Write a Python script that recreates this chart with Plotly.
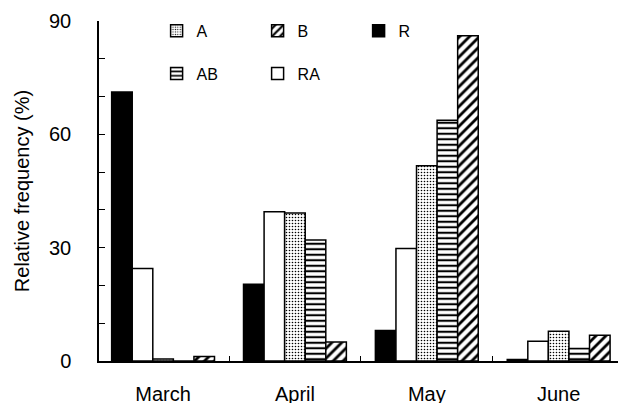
import plotly.graph_objects as go

# ---- data ----
months = ["March", "April", "May", "June"]
R = [71.2, 20.3, 8.1, 0.4]
RA = [24.5, 39.5, 29.8, 5.2]
A = [0.5, 39.2, 51.7, 7.9]
AB = [0.0, 32.0, 63.7, 3.3]
B = [1.2, 5.0, 86.1, 6.8]
y_tick_vals = [0, 10, 20, 30, 40, 50, 60, 70, 80, 90]
y_tick_text = ["0", "", "", "30", "", "", "60", "", "", "90"]

FONT = "Liberation Sans, Arial, sans-serif"

styles = {
    "R":  dict(color="black", shape="", size=8, solidity=0.3, legend="legend", rank=3),
    "RA": dict(color="white", shape="", size=8, solidity=0.3, legend="legend2", rank=2),
    "A":  dict(color="white", shape=".", size=3, solidity=0.22, legend="legend", rank=1),
    "AB": dict(color="white", shape="-", size=5.5, solidity=0.38, legend="legend2", rank=1),
    "B":  dict(color="white", shape="/", size=7, solidity=0.4, legend="legend", rank=2),
}

fig = go.Figure()
for name, vals in [("R", R), ("RA", RA), ("A", A), ("AB", AB), ("B", B)]:
    s = styles[name]
    fig.add_trace(go.Bar(
        x=months, y=vals, name=name,
        marker=dict(color=s["color"], line=dict(color="black", width=1.5),
                    pattern=dict(shape=s["shape"], fgcolor="black", bgcolor="white",
                                 size=s["size"], solidity=s["solidity"], fillmode="replace")
                    if s["shape"] else None),
        legend=s["legend"], legendrank=s["rank"],
    ))

legend_common = dict(orientation="h", entrywidth=56, bgcolor="rgba(0,0,0,0)",
                     font=dict(family=FONT, size=16, color="black"),
                     xanchor="left", yanchor="middle", traceorder="normal")

fig.update_layout(
    width=618, height=403,
    margin=dict(l=99, r=0, t=21, b=42, autoexpand=False),
    paper_bgcolor="white", plot_bgcolor="white",
    barmode="group", bargap=0.22, bargroupgap=0,
    font=dict(family=FONT, size=20, color="black"),
    legend=dict(x=0.111, y=0.971, **legend_common),
    legend2=dict(x=0.111, y=0.845, **legend_common),
    xaxis=dict(type="category", range=[-0.486, 3.45], showline=True, linecolor="black",
               linewidth=1.5, ticks="inside", tickson="boundaries", ticklen=5,
               tickcolor="black", tickwidth=1, showgrid=False, automargin=False,
               tickfont=dict(size=20, color="black"), ticklabelstandoff=14),
    yaxis=dict(range=[0, 90], showline=True, linecolor="black", linewidth=1.5,
               ticks="inside", ticklen=6, tickcolor="black", tickwidth=1,
               tickmode="array", tickvals=y_tick_vals, ticktext=y_tick_text,
               showgrid=False, zeroline=False, tickfont=dict(size=20, color="black"),
               ticklabelstandoff=22, automargin=False,
               title=dict(text="Relative frequency (%)", font=dict(size=20, color="black"),
                          standoff=14)),
)

fig.write_html("out.html")
